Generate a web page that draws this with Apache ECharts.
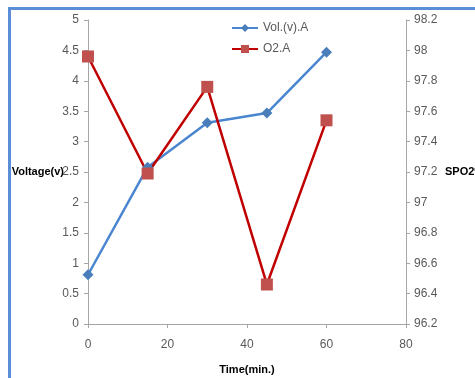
<!DOCTYPE html>
<html>
<head>
<meta charset="utf-8">
<script src="https://cdn.jsdelivr.net/npm/echarts@6/dist/echarts.min.js"></script>
<style>
  html, body { margin: 0; padding: 0; background: #fff; }
  #frame { position: absolute; left: 8px; top: 7px; width: 500px; height: 400px;
           border-left: 3px solid #5b8ed6; border-top: 3px solid #5b8ed6; }
  #chart { position: absolute; left: 0; top: 0; width: 475px; height: 378px; }
</style>
</head>
<body>
<div id="frame"></div>
<div id="chart"></div>
<script>
var times = [0, 15, 30, 45, 60];
var voltage = [0.81, 2.58, 3.31, 3.47, 4.47];
var spo2 = [97.96, 97.19, 97.76, 96.46, 97.54];

(function(){
  var myChart = echarts.init(document.getElementById('chart'));
  var font = 'Liberation Sans';
  var labelColor = '#595959';
  var axisLine = { show: true, lineStyle: { color: '#a6a6a6', width: 1 } };
  var axisTick = { show: true, inside: false, length: 4, lineStyle: { color: '#a6a6a6' } };

  var option = {
    animation: false,
    legend: {
      orient: 'vertical',
      left: 226,
      top: 17,
      itemWidth: 26,
      itemHeight: 10,
      itemGap: 9,
      textStyle: { fontFamily: font, fontSize: 12, color: labelColor },
      data: ['Vol.(v).A', 'O2.A']
    },
    grid: { left: 88, right: 69, top: 20, bottom: 54, containLabel: false, outerBoundsMode: 'none' },
    xAxis: {
      type: 'value',
      min: 0, max: 80, interval: 20,
      name: 'Time(min.)',
      nameLocation: 'middle',
      nameGap: 40,
      nameMoveOverlap: false,
      nameTextStyle: { fontFamily: font, fontSize: 11, fontWeight: 'bold', color: '#000' },
      axisLine: axisLine, axisTick: axisTick,
      splitLine: { show: false },
      axisLabel: { fontFamily: font, fontSize: 12, color: labelColor, margin: 15 }
    },
    yAxis: [{
      type: 'value',
      min: 0, max: 5, interval: 0.5,
      name: 'Voltage(v)',
      nameLocation: 'middle',
      nameRotate: 0,
      nameGap: 24,
      nameMoveOverlap: false,
      nameTextStyle: { fontFamily: font, fontSize: 11, fontWeight: 'bold', color: '#000', align: 'right' },
      axisLine: axisLine, axisTick: axisTick,
      splitLine: { show: false },
      axisLabel: { fontFamily: font, fontSize: 12, color: labelColor, margin: 9 }
    }, {
      type: 'value',
      position: 'right',
      min: 96.2, max: 98.2, interval: 0.2,
      name: 'SPO2%',
      nameLocation: 'middle',
      nameRotate: 0,
      nameGap: 39,
      nameMoveOverlap: false,
      nameTextStyle: { fontFamily: font, fontSize: 11, fontWeight: 'bold', color: '#000', align: 'left' },
      axisLine: axisLine, axisTick: axisTick,
      splitLine: { show: false },
      axisLabel: {
        fontFamily: font, fontSize: 12, color: labelColor, margin: 8,
        formatter: function (v) { return String(parseFloat(v.toFixed(1))); }
      }
    }],
    series: [{
      name: 'Vol.(v).A',
      type: 'line',
      yAxisIndex: 0,
      data: times.map(function (t, i) { return [t, voltage[i]]; }),
      symbol: 'diamond',
      symbolSize: 11,
      lineStyle: { color: '#4a86d0', width: 2.5 },
      itemStyle: { color: '#4a7ebb' }
    }, {
      name: 'O2.A',
      type: 'line',
      yAxisIndex: 1,
      data: times.map(function (t, i) { return [t, spo2[i]]; }),
      symbol: 'rect',
      symbolSize: 12,
      lineStyle: { color: '#c00000', width: 2.5 },
      itemStyle: { color: '#c0504d' }
    }]
  };
  myChart.setOption(option);
})();
</script>
</body>
</html>
